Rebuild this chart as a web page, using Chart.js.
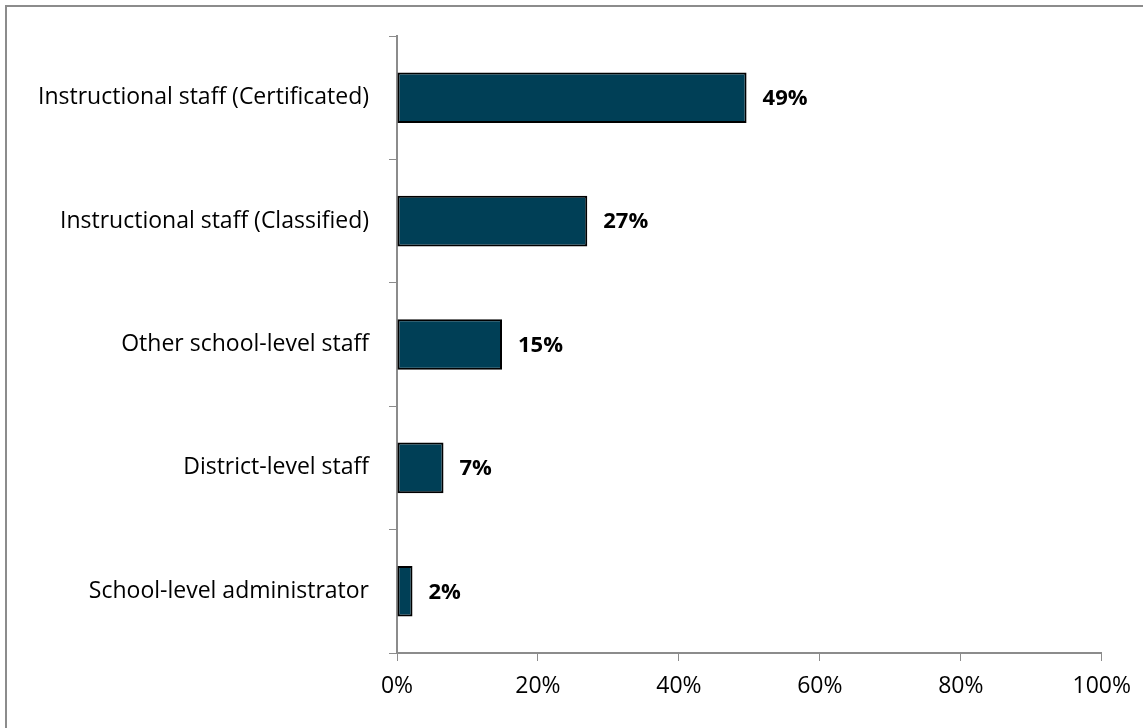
<!DOCTYPE html>
<html>
<head>
<meta charset="utf-8">
<script src="https://cdn.jsdelivr.net/npm/chart.js@4/dist/chart.umd.min.js"></script>
<style>
  html, body { margin: 0; padding: 0; background: #fff; }
  #frame {
    position: absolute; left: 5px; top: 5px; width: 1150px; height: 740px;
    border: 2px solid #8c8c8c; box-sizing: border-box;
  }
  #wrap { position: absolute; left: 0; top: 0; width: 1143px; height: 728px; }
</style>
</head>
<body>
<div id="frame"></div>
<div id="wrap"><canvas id="chart" width="1143" height="728"></canvas></div>
<script>
const categories = [
  'Instructional staff (Certificated)',
  'Instructional staff (Classified)',
  'Other school-level staff',
  'District-level staff',
  'School-level administrator',
];
const values    = [49.6, 27.0, 14.9, 6.6, 2.2];
const valueText = ['49%', '27%', '15%', '7%', '2%'];
const xTicks    = [0, 20, 40, 60, 80, 100];

const FONT = '"Open Sans", sans-serif';
const AXIS = '#8c8c8c';

// bold value label just past each bar end
const barLabels = {
  id: 'barLabels',
  afterDatasetsDraw(chart) {
    const { ctx } = chart;
    const meta = chart.getDatasetMeta(0);
    ctx.save();
    ctx.font = 'bold 22px ' + FONT;
    ctx.fillStyle = '#000';
    ctx.textBaseline = 'middle';
    meta.data.forEach((bar, i) => {
      ctx.fillText(valueText[i], bar.x + 16, bar.y + 1);
    });
    ctx.restore();
  },
};

new Chart(document.getElementById('chart'), {
  type: 'bar',
  data: {
    labels: categories,
    datasets: [{
      data: values,
      backgroundColor: '#003f56',
      borderColor: '#000',
      borderWidth: 2,
      borderSkipped: false,
      categoryPercentage: 1,
      barPercentage: 0.41,
    }],
  },
  options: {
    indexAxis: 'y',
    responsive: false,
    animation: false,
    layout: { padding: { top: 36, right: 41, left: 0, bottom: 0 } },
    plugins: { legend: { display: false }, tooltip: { enabled: false } },
    scales: {
      x: {
        min: 0, max: 100,
        afterBuildTicks: (s) => { s.ticks = xTicks.map((v) => ({ value: v })); },
        afterFit: (s) => { s.height = 75; },
        ticks: {
          color: '#000',
          font: { family: FONT, size: 23 },
          padding: 12,
          callback: (v) => v + '%',
          maxRotation: 0,
        },
        grid: { drawOnChartArea: false, color: AXIS, tickLength: 8, tickColor: AXIS },
        border: { color: AXIS, width: 2 },
      },
      y: {
        afterFit: (s) => { s.width = 397; },
        ticks: {
          color: '#000',
          font: { family: FONT, size: 23 },
          padding: 20,
        },
        grid: { drawOnChartArea: false, offset: true, color: AXIS, tickLength: 8, tickColor: AXIS },
        border: { color: AXIS, width: 2 },
      },
    },
  },
  plugins: [barLabels],
});
</script>
</body>
</html>
